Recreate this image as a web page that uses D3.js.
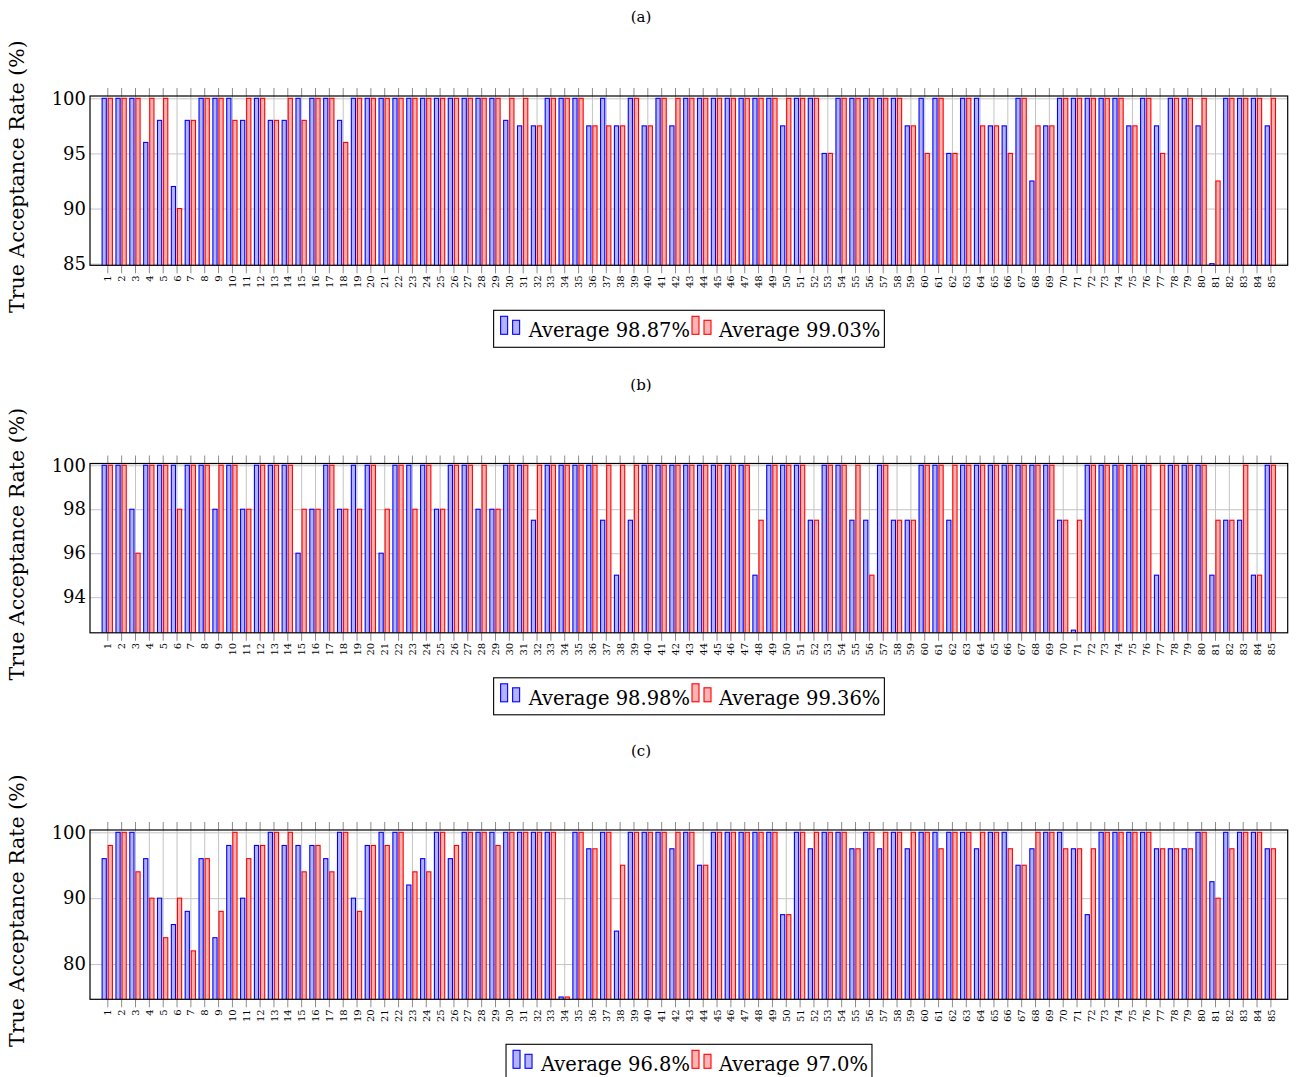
<!DOCTYPE html>
<html>
<head>
<meta charset="utf-8">
<script src="https://cdn.jsdelivr.net/npm/d3@7"></script>
<style>
  html, body { margin: 0; padding: 0; background: #fff; }
  svg { display: block; font-family: "DejaVu Serif", serif; }
</style>
</head>
<body>
<svg id="chart" width="1296" height="1077"></svg>
<script>
// Subject numbers shown on the x axis
const categories = [1,2,3,4,5,6,7,8,9,10,11,12,13,14,15,16,17,18,19,20,
  21,22,23,24,25,26,27,28,29,30,31,32,33,34,35,36,37,38,39,40,
  41,42,43,44,45,46,47,48,49,50,51,52,53,54,55,56,57,58,59,60,
  61,62,63,64,65,66,67,68,69,70,71,72,73,74,75,76,77,78,79,80,
  81,82,83,84,85];

// (a) true acceptance rate per subject, in percent
const aBlue = [100,100,100,96,98,92,98,100,100,100,98,100,98,98,100,100,100,98,100,100,
  100,100,100,100,100,100,100,100,100,98,97.5,97.5,100,100,100,97.5,100,97.5,100,97.5,
  100,97.5,100,100,100,100,100,100,100,97.5,100,100,95,100,100,100,100,100,97.5,100,
  100,95,100,100,97.5,97.5,100,92.5,97.5,100,100,100,100,100,97.5,100,97.5,100,100,97.5,
  85,100,100,100,97.5];
const aRed = [100,100,100,100,100,90,98,100,100,98,100,100,98,100,98,100,100,96,100,100,
  100,100,100,100,100,100,100,100,100,100,100,97.5,100,100,100,97.5,97.5,97.5,100,97.5,
  100,100,100,100,100,100,100,100,100,100,100,100,95,100,100,100,100,100,97.5,95,
  100,95,100,97.5,97.5,95,100,97.5,97.5,100,100,100,100,100,97.5,100,95,100,100,100,
  92.5,100,100,100,100];

// (b)
const bBlue = [100,100,98,100,100,100,100,100,98,100,98,100,100,100,96,98,100,98,100,100,
  96,100,100,100,98,100,100,98,98,100,100,97.5,100,100,100,100,97.5,95,97.5,100,
  100,100,100,100,100,100,100,95,100,100,100,97.5,100,100,97.5,97.5,100,97.5,97.5,100,
  100,97.5,100,100,100,100,100,100,100,97.5,92.5,100,100,100,100,100,95,100,100,100,
  95,97.5,97.5,95,100];
const bRed = [100,100,96,100,100,98,100,100,100,100,98,100,100,100,98,98,100,98,98,100,
  98,100,98,100,98,100,100,100,98,100,100,100,100,100,100,100,100,100,100,100,
  100,100,100,100,100,100,100,97.5,100,100,100,97.5,100,100,100,95,100,97.5,97.5,100,
  100,100,100,100,100,100,100,100,100,97.5,97.5,100,100,100,100,100,100,100,100,100,
  97.5,97.5,100,95,100];

// (c)
const cBlue = [96,100,100,96,90,86,88,96,84,98,90,98,100,98,98,98,96,100,90,98,
  100,100,92,96,100,96,100,100,100,100,100,100,100,75,100,97.5,100,85,100,100,
  100,97.5,100,95,100,100,100,100,100,87.5,100,97.5,100,100,97.5,100,97.5,100,97.5,100,
  100,100,100,97.5,100,100,95,97.5,100,100,97.5,87.5,100,100,100,100,97.5,97.5,97.5,100,
  92.5,100,100,100,97.5];
const cRed = [98,100,94,90,84,90,82,96,88,100,96,98,100,100,94,98,94,100,88,98,
  98,100,94,94,100,98,100,100,98,100,100,100,100,75,100,97.5,100,95,100,100,
  100,100,100,95,100,100,100,100,100,87.5,100,100,100,100,97.5,100,100,100,100,100,
  97.5,100,100,100,100,97.5,95,100,100,97.5,97.5,97.5,100,100,100,100,97.5,97.5,97.5,100,
  90,97.5,100,100,97.5];

// y tick labels of each panel
const aTicks = [85, 90, 95, 100];
const bTicks = [94, 96, 98, 100];
const cTicks = [80, 90, 100];

const panelTitles = ["(a)", "(b)", "(c)"];
const legendBlue = ["Average 98.87%", "Average 98.98%", "Average 96.8%"];
const legendRed  = ["Average 99.03%", "Average 99.36%", "Average 97.0%"];
const yTitle = "True Acceptance Rate (%)";

const panels = [
  { title: panelTitles[0], blue: aBlue, red: aRed, ticks: aTicks, domain: [84.85, 100.21], top: 96,    legBlue: legendBlue[0], legRed: legendRed[0] },
  { title: panelTitles[1], blue: bBlue, red: bRed, ticks: bTicks, domain: [92.38, 100.08], top: 463.5, legBlue: legendBlue[1], legRed: legendRed[1] },
  { title: panelTitles[2], blue: cBlue, red: cRed, ticks: cTicks, domain: [74.65, 100.35], top: 830,   legBlue: legendBlue[2], legRed: legendRed[2] }
];

const left = 90, right = 1287.7, plotH = 169.3;
const blueStroke = "#0000ff", blueFill = "#b3b3ff";
const redStroke = "#ff0000", redFill = "#ffb3b3";
const gridCol = "#c4c4c4";

const svg = d3.select("#chart");

const x = d3.scalePoint().domain(categories).range([left, right]).padding(1.25);

panels.forEach((p, pi) => {
  const top = p.top, bottom = top + plotH;
  const y = d3.scaleLinear().domain(p.domain).range([bottom, top]);
  const g = svg.append("g");

  // panel title
  g.append("text").attr("x", 641).attr("y", top - 78)
    .attr("text-anchor", "middle").attr("dominant-baseline", "middle")
    .style("font-size", "15px").text(p.title);

  // grid
  g.append("g").attr("transform", `translate(0,${bottom})`)
    .call(d3.axisBottom(x).tickSize(-plotH).tickFormat(""))
    .call(s => s.select(".domain").remove())
    .call(s => s.selectAll("line").attr("stroke", gridCol).attr("stroke-width", 1));
  g.append("g").attr("transform", `translate(${left},0)`)
    .call(d3.axisLeft(y).tickValues(p.ticks).tickSize(-(right - left)).tickFormat(""))
    .call(s => s.select(".domain").remove())
    .call(s => s.selectAll("line").attr("stroke", gridCol).attr("stroke-width", 1));

  // bars
  const clipId = "clip" + pi;
  g.append("clipPath").attr("id", clipId).append("rect")
    .attr("x", left).attr("y", top).attr("width", right - left).attr("height", plotH);
  const bars = g.append("g").attr("clip-path", `url(#${clipId})`);
  bars.selectAll("rect.b").data(categories).join("rect").attr("class", "b")
    .attr("x", c => x(c) - 5.2).attr("width", 4.2)
    .attr("y", (c, i) => y(p.blue[i])).attr("height", (c, i) => bottom - y(p.blue[i]) + 2)
    .attr("fill", blueFill).attr("stroke", blueStroke).attr("stroke-width", 1.1);
  bars.selectAll("rect.r").data(categories).join("rect").attr("class", "r")
    .attr("x", c => x(c) + 0.9).attr("width", 4.2)
    .attr("y", (c, i) => y(p.red[i])).attr("height", (c, i) => bottom - y(p.red[i]) + 2)
    .attr("fill", redFill).attr("stroke", redStroke).attr("stroke-width", 1.1);

  // outside tick marks
  g.append("g").attr("transform", `translate(0,${top})`)
    .call(d3.axisTop(x).tickSize(8).tickFormat(""))
    .call(s => s.select(".domain").remove())
    .call(s => s.selectAll("line").attr("stroke", "#8c8c8c"));
  const xAx = g.append("g").attr("transform", `translate(0,${bottom})`)
    .call(d3.axisBottom(x).tickSize(8))
    .call(s => s.select(".domain").remove())
    .call(s => s.selectAll("line").attr("stroke", "#8c8c8c"));
  xAx.selectAll("text")
    .attr("transform", "translate(0,10) rotate(-90)")
    .attr("x", 0).attr("y", 0).attr("dy", "0.36em")
    .attr("text-anchor", "end")
    .style("font-family", "DejaVu Serif, serif").style("font-size", "10px").attr("fill", "#000");

  const yAx = g.append("g").attr("transform", `translate(${left},0)`)
    .call(d3.axisLeft(y).tickValues(p.ticks).tickSize(0).tickPadding(4))
    .call(s => s.select(".domain").remove());
  yAx.selectAll("text").style("font-family", "DejaVu Serif, serif").style("font-size", "18px").attr("fill", "#000");

  // frame
  g.append("rect").attr("x", left).attr("y", top).attr("width", right - left).attr("height", plotH)
    .attr("fill", "none").attr("stroke", "#000").attr("stroke-width", 1.2);

  // y-axis title
  g.append("text")
    .attr("transform", `translate(18,${top + plotH / 2 - 4}) rotate(-90)`)
    .attr("text-anchor", "middle").attr("dominant-baseline", "middle")
    .style("font-size", "20.5px").text(yTitle);

  // legend
  const legTop = bottom + 45, legH = 37, cx = 689;
  const lg = g.append("g");
  const t1 = lg.append("text").style("font-size", "19.5px").text(p.legBlue);
  const t2 = lg.append("text").style("font-size", "19.5px").text(p.legRed);
  const w1 = t1.node().getComputedTextLength(), w2 = t2.node().getComputedTextLength();
  const iconW = 8 + 4 + 8;
  const total = 7 + iconW + 8 + w1 + 2 + iconW + 7 + w2 + 4;
  const x0 = cx - total / 2;
  const base = legTop + 27;
  lg.insert("rect", ":first-child").attr("x", x0).attr("y", legTop).attr("width", total).attr("height", legH)
    .attr("fill", "#fff").attr("stroke", "#000").attr("stroke-width", 1.1);
  const icon = (ix, fill, stroke) => {
    lg.append("rect").attr("x", ix).attr("y", legTop + 6).attr("width", 7).attr("height", 18)
      .attr("fill", fill).attr("stroke", stroke).attr("stroke-width", 1.1);
    lg.append("rect").attr("x", ix + 12).attr("y", legTop + 10).attr("width", 7).attr("height", 14)
      .attr("fill", fill).attr("stroke", stroke).attr("stroke-width", 1.1);
  };
  icon(x0 + 7, blueFill, blueStroke);
  t1.attr("x", x0 + 7 + iconW + 8).attr("y", base);
  const x2 = x0 + 7 + iconW + 8 + w1 + 2;
  icon(x2, redFill, redStroke);
  t2.attr("x", x2 + iconW + 7).attr("y", base);
});
</script>
</body>
</html>
